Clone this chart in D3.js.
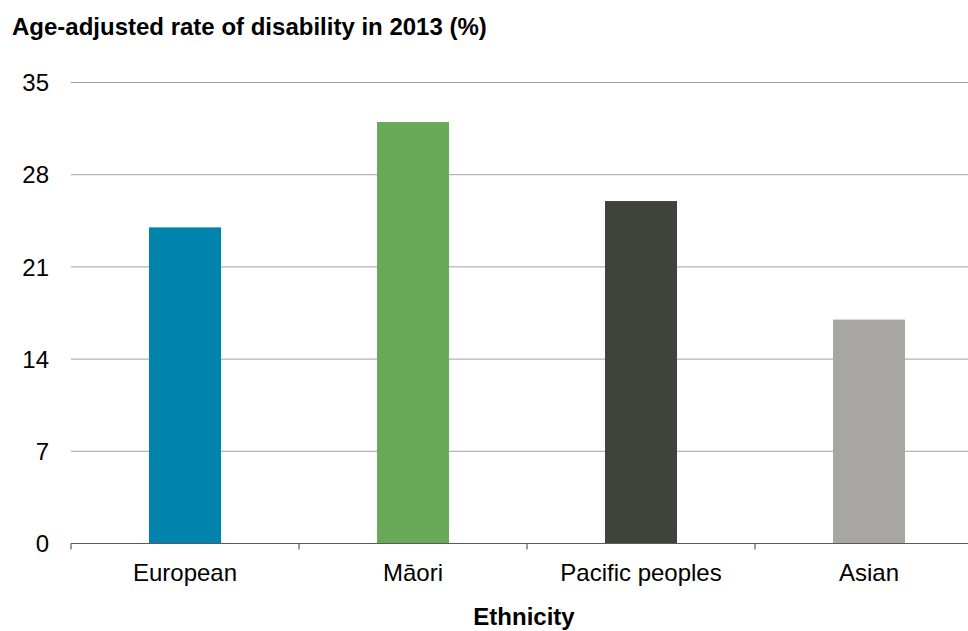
<!DOCTYPE html>
<html><head><meta charset="utf-8">
<script src="https://cdn.jsdelivr.net/npm/d3@7"></script>
<style>body{margin:0;background:#fff}svg{display:block}</style>
</head><body>
<script>
const categories = ["European", "Māori", "Pacific peoples", "Asian"];
const values = [24, 32, 26, 17];
const colors = ["#0083ad", "#68aa57", "#3f433c", "#a7a6a4"];
const yTicks = [0, 7, 14, 21, 28, 35];
const title = "Age-adjusted rate of disability in 2013 (%)";
const xTitle = "Ethnicity";

const W = 968, H = 631;
const m = {left: 71, top: 82.5, bottom: 543.5};
const svg = d3.select("body").append("svg").attr("width", W).attr("height", H)
  .style("font-family", "'Liberation Sans', Arial, sans-serif");

const x = d3.scaleBand().domain(categories).range([71, 71 + 228 * 4]).paddingInner(0).paddingOuter(0);
const y = d3.scaleLinear().domain([0, 35]).range([m.bottom, m.top]);

// gridlines
svg.append("g").selectAll("line").data(yTicks.filter(d => d > 0)).join("line")
  .attr("x1", 71).attr("x2", W).attr("y1", d => y(d)).attr("y2", d => y(d))
  .attr("stroke", "#a0a0a0").attr("stroke-width", 1);

// y labels
svg.append("g").selectAll("text").data(yTicks).join("text")
  .attr("x", 49).attr("y", d => y(d)).attr("dy", "0.36em")
  .attr("text-anchor", "end").attr("font-size", 24).attr("fill", "#000")
  .text(d => d);

// bars
const bw = 72;
svg.append("g").selectAll("rect").data(values).join("rect")
  .attr("x", (d, i) => x(categories[i]) + x.bandwidth() / 2 - bw / 2)
  .attr("width", bw)
  .attr("y", d => y(d))
  .attr("height", d => y(0) - y(d))
  .attr("fill", (d, i) => colors[i]);

// x axis
const xa = svg.append("g").attr("transform", `translate(0,${y(0)})`);
xa.append("line").attr("x1", 71).attr("x2", W).attr("stroke", "#5a5a5a").attr("stroke-width", 1.2);
xa.selectAll("line.tick").data(categories).join("line").attr("class", "tick")
  .attr("x1", d => x(d)).attr("x2", d => x(d)).attr("y1", 0).attr("y2", 6)
  .attr("stroke", "#5a5a5a").attr("stroke-width", 1.2);
xa.selectAll("text").data(categories).join("text")
  .attr("x", d => x(d) + x.bandwidth() / 2).attr("y", 37.5)
  .attr("text-anchor", "middle").attr("font-size", 24).attr("fill", "#000")
  .text(d => d);

svg.append("text").attr("x", 12).attr("y", 34.5).attr("font-size", 24).attr("font-weight", "bold")
  .attr("fill", "#000").text(title);
svg.append("text").attr("x", x(categories[1]) + x.bandwidth() - 3).attr("y", 625)
  .attr("text-anchor", "middle").attr("font-size", 24).attr("font-weight", "bold")
  .attr("fill", "#000").text(xTitle);
</script>
</body></html>
